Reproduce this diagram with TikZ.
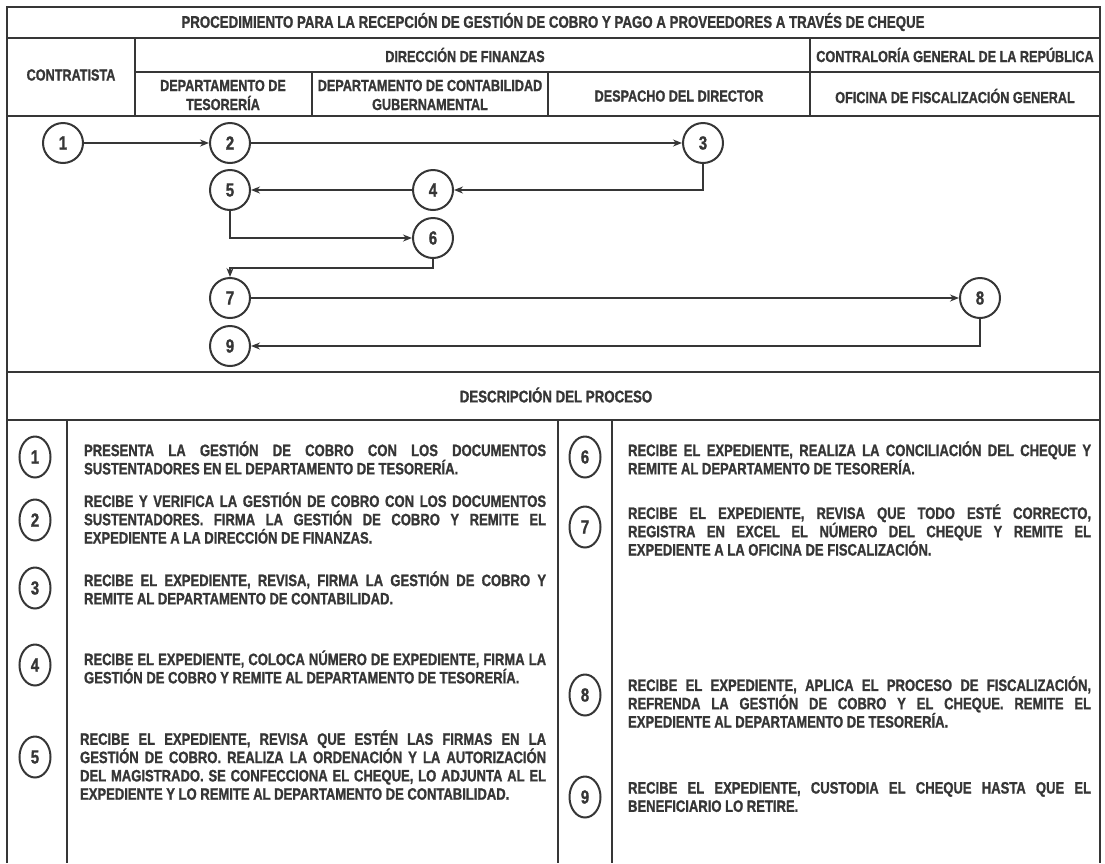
\documentclass[tikz,border=0pt]{standalone}
\usepackage{fontspec}
\setmainfont{Liberation Sans}[FakeStretch=0.79, BoldFeatures={FakeBold=1.2}]
\usepackage{tikz}
\usetikzlibrary{arrows.meta,shapes.geometric}
\definecolor{inkgray}{HTML}{363636}
\hyphenpenalty=10000
\exhyphenpenalty=10000
\tikzset{
	headtext/.style={inner sep=0pt, font=\fontsize{16.8}{19}\selectfont\bfseries},
	subtext/.style={inner sep=0pt, align=center, font=\fontsize{16}{19}\selectfont\bfseries},
	flownode/.style={circle, draw, line width=2pt, minimum size=40pt, inner sep=0pt, font=\fontsize{19}{19}\selectfont\bfseries},
	descnode/.style={ellipse, draw, line width=2pt, minimum width=31pt, minimum height=41pt, inner sep=0pt, font=\fontsize{19}{19}\selectfont\bfseries},
	desctext/.style={anchor=west, inner sep=0pt, align=justify, text width=462pt, font=\fontsize{16.5}{18.3}\selectfont\bfseries},
	flowarrow/.style={line width=2pt, -{Stealth[length=9pt,width=7pt]}}
}

\begin{document}
\begin{tikzpicture}[x=1pt, y=-1pt, color=inkgray, line width=2.2pt]
			%%%%% START %%%%%
			\useasboundingbox (0,0) rectangle (1105,863);
			
			%%%%% TABLE LINES %%%%%
			\draw (7,863) -- (7,7) -- (1100,7) -- (1100,863);
			\draw (7,38) -- (1100,38);
			\draw (135,72) -- (1100,72);
			\draw (7,116) -- (1100,116);
			\draw (135,38) -- (135,116);
			\draw (312,72) -- (312,116);
			\draw (548,72) -- (548,116);
			\draw (810,38) -- (810,116);
			\draw (7,372) -- (1100,372);
			\draw (7,420) -- (1100,420);
			\draw (67,420) -- (67,863);
			\draw (558,420) -- (558,863);
			\draw (612,420) -- (612,863);
			
			%%%%% HEADER %%%%%
			\node[headtext] (title) at (553,22) {PROCEDIMIENTO PARA LA RECEPCIÓN DE GESTIÓN DE COBRO Y PAGO A PROVEEDORES A TRAVÉS DE CHEQUE};
			\node[subtext] (contratista) at (71,75) {CONTRATISTA};
			\node[subtext] (finanzas) at (465,55) {DIRECCIÓN DE FINANZAS};
			\node[subtext] (contraloria) at (955,55) {CONTRALORÍA GENERAL DE LA REPÚBLICA};
			\node[subtext] (tesoreria) at (223,95) {DEPARTAMENTO DE\\TESORERÍA};
			\node[subtext] (contabilidad) at (430,95) {DEPARTAMENTO DE CONTABILIDAD\\GUBERNAMENTAL};
			\node[subtext] (despacho) at (679,96) {DESPACHO DEL DIRECTOR};
			\node[subtext] (oficina) at (955,96) {OFICINA DE FISCALIZACIÓN GENERAL};
			
			%%%%% FLOW %%%%%
			\node[flownode] (n1) at (63,143) {1};
			\node[flownode] (n2) at (230,143) {2};
			\node[flownode] (n3) at (703,143) {3};
			\node[flownode] (n4) at (433,190) {4};
			\node[flownode] (n5) at (230,190) {5};
			\node[flownode] (n6) at (433,238) {6};
			\node[flownode] (n7) at (230,298) {7};
			\node[flownode] (n8) at (980,298) {8};
			\node[flownode] (n9) at (230,346) {9};
			\coordinate (bend67) at (230,268);
			
			\draw[flowarrow] (n1) -- (n2);
			\draw[flowarrow] (n2) -- (n3);
			\draw[flowarrow] (n3.south) |- (n4.east);
			\draw[flowarrow] (n4) -- (n5);
			\draw[flowarrow] (n5.south) |- (n6.west);
			\draw[flowarrow] (n6.south) |- (bend67) -- (n7.north);
			\draw[flowarrow] (n7) -- (n8);
			\draw[flowarrow] (n8.south) |- (n9.east);
			
			%%%%% DESCRIPTION %%%%%
			\node[headtext] (descripcion) at (556,395) {DESCRIPCIÓN DEL PROCESO};
			
			\node[descnode] (d1) at (35,457) {1};
			\node[descnode] (d2) at (35,520) {2};
			\node[descnode] (d3) at (35,588) {3};
			\node[descnode] (d4) at (35,665) {4};
			\node[descnode] (d5) at (35,757) {5};
			\node[descnode] (d6) at (585,457) {6};
			\node[descnode] (d7) at (585,527) {7};
			\node[descnode] (d8) at (585,695) {8};
			\node[descnode] (d9) at (585,797) {9};
			
			\node[desctext] (t1) at (83,458) {PRESENTA LA GESTIÓN DE COBRO CON LOS DOCUMENTOS\linebreak SUSTENTADORES EN EL DEPARTAMENTO DE TESORERÍA.};
			\node[desctext] (t2) at (83,518) {RECIBE Y VERIFICA LA GESTIÓN DE COBRO CON LOS DOCUMENTOS\linebreak SUSTENTADORES. FIRMA LA GESTIÓN DE COBRO Y REMITE EL\linebreak EXPEDIENTE A LA DIRECCIÓN DE FINANZAS.};
			\node[desctext] (t3) at (83,588) {RECIBE EL EXPEDIENTE, REVISA, FIRMA LA GESTIÓN DE COBRO Y\linebreak REMITE AL DEPARTAMENTO DE CONTABILIDAD.};
			\node[desctext] (t4) at (83,667) {RECIBE EL EXPEDIENTE, COLOCA NÚMERO DE EXPEDIENTE, FIRMA LA\linebreak GESTIÓN DE COBRO Y REMITE AL DEPARTAMENTO DE TESORERÍA.};
			\node[desctext, text width=466pt] (t5) at (79,765) {RECIBE EL EXPEDIENTE, REVISA QUE ESTÉN LAS FIRMAS EN LA\linebreak GESTIÓN DE COBRO. REALIZA LA ORDENACIÓN Y LA AUTORIZACIÓN\linebreak DEL MAGISTRADO. SE CONFECCIONA EL CHEQUE, LO ADJUNTA AL EL\linebreak EXPEDIENTE Y LO REMITE AL DEPARTAMENTO DE CONTABILIDAD.};
			\node[desctext, text width=463pt] (t6) at (627,458) {RECIBE EL EXPEDIENTE, REALIZA LA CONCILIACIÓN DEL CHEQUE Y\linebreak REMITE AL DEPARTAMENTO DE TESORERÍA.};
			\node[desctext, text width=463pt] (t7) at (627,530) {RECIBE EL EXPEDIENTE, REVISA QUE TODO ESTÉ CORRECTO,\linebreak REGISTRA EN EXCEL EL NÚMERO DEL CHEQUE Y REMITE EL\linebreak EXPEDIENTE A LA OFICINA DE FISCALIZACIÓN.};
			\node[desctext, text width=463pt] (t8) at (627,702) {RECIBE EL EXPEDIENTE, APLICA EL PROCESO DE FISCALIZACIÓN,\linebreak REFRENDA LA GESTIÓN DE COBRO Y EL CHEQUE. REMITE EL\linebreak EXPEDIENTE AL DEPARTAMENTO DE TESORERÍA.};
			\node[desctext, text width=463pt] (t9) at (627,797) {RECIBE EL EXPEDIENTE, CUSTODIA EL CHEQUE HASTA QUE EL\linebreak BENEFICIARIO LO RETIRE.};
			
			%%%%% END %%%%%
		\end{tikzpicture}
\end{document}
